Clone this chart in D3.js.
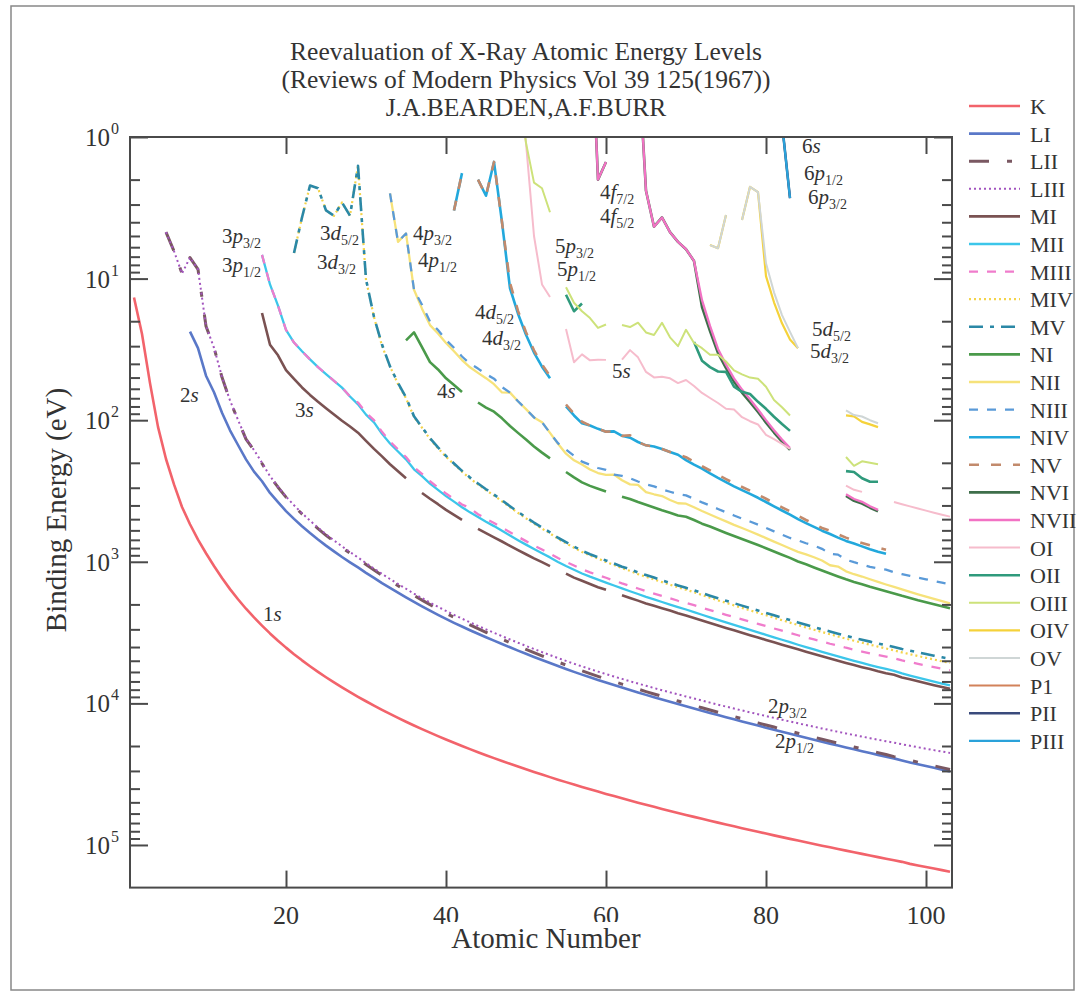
<!DOCTYPE html>
<html><head><meta charset="utf-8">
<script src="https://cdn.jsdelivr.net/npm/d3@7"></script>
<style>
body{margin:0;background:#fff}
svg{display:block}
text{font-family:"Liberation Serif","Times New Roman",serif;fill:#333}
</style>
</head><body>
<svg id="chart" width="1082" height="1001"></svg>
<script>
// ---------- DATA (binding energies in eV, indexed from a starting atomic number) ----------
const levelNames = ["K","LI","LII","LIII","MI","MII","MIII","MIV","MV","NI","NII","NIII","NIV","NV","NVI","NVII","OI","OII","OIII","OIV","OV","P1","PII","PIII"];
const xTicks = [20,40,60,80,100];
const yDecades = [0,1,2,3,4,5];

const K_z0 = 1;
const K = [13.6,24.6,54.7,111.5,188,284.2,409.9,543.1,696.7,870.2,
1070.8,1303,1559.6,1839,2145.5,2472,2822.4,3205.9,3608.4,4038.5,
4492,4966,5465,5989,6539,7112,7709,8333,8979,9659,
10367,11103,11867,12658,13474,14326,15200,16105,17038,17998,
18986,20000,21044,22117,23220,24350,25514,26711,27940,29200,
30491,31814,33169,34561,35985,37441,38925,40443,41991,43569,
45184,46834,48519,50239,51996,53789,55618,57486,59390,61332,
63314,65351,67416,69525,71676,73871,76111,78395,80725,83102,
85530,88005,90526,93105,95730,98404,101137,103922,106755,109651,
112601,115606,118678,121818,125027,128220,131590,135960,139490,143090,
146780,150540,154380];

const LI_z0 = 8;
const LI = [23.7,31,48.5,
63.5,88.6,117.8,149.7,189,230.9,270,326.3,378.6,438.4,
498,560.9,626.7,696,769.1,844.6,925.1,1008.6,1096.7,1196.2,
1299,1414.6,1527,1652,1782,1921,2065,2216,2373,2532,
2698,2866,3043,3224,3412,3604,3806,4018,4238,4465,
4698,4939,5188,5453,5714,5989,6266,6549,6835,7126,
7428,7737,8052,8376,8708,9046,9394,9751,10116,10486,
10870,11271,11682,12100,12527,12968,13419,13880,14353,14839,
15347,15861,16388,16939,17493,18049,18639,19237,19840,20472,
21105,21757,22427,23097,23773,24460,25275,26110,26900,27700,
28530,29380,30240];

const LII_z0 = 5;
const LII = [4.7,6.4,9.2,7.1,8.6,21.7,
30.65,49.78,72.95,99.82,136,163.6,202,250.6,297.3,349.7,
403.6,460.2,519.8,583.8,649.9,719.9,793.2,870,952.3,1044.9,
1143.2,1248.1,1359.1,1474.3,1596,1730.9,1864,2007,2156,2307,
2465,2625,2793,2967,3146,3330,3524,3727,3938,4156,
4380,4612,4852,5107,5359,5624,5891,6164,6440,6722,
7013,7312,7617,7930,8252,8581,8918,9264,9617,9978,
10349,10739,11136,11544,11959,12385,12824,13273,13734,14209,
14698,15200,15711,16244,16785,17337,17907,18484,19083,19693,
20314,20948,21600,22266,22944,23779,24385,25250,26020,26810,
27610,28440,29280];

const LIII_z0 = 5;
const LIII = [4.7,6.4,9.2,7.1,8.6,21.6,
30.81,49.5,72.55,99.42,135,162.5,200,248.4,294.6,346.2,
398.7,453.8,512.1,574.1,638.7,706.8,778.1,852.7,932.7,1021.8,
1116.4,1217,1323.6,1433.9,1550,1678.4,1804,1940,2080,2223,
2371,2520,2677,2838,3004,3173,3351,3538,3730,3929,
4132,4341,4557,4786,5012,5247,5483,5723,5964,6208,
6459,6716,6977,7243,7514,7790,8071,8358,8648,8944,
9244,9561,9881,10207,10535,10871,11215,11564,11919,12284,
12658,13035,13419,13814,14214,14619,15031,15444,15871,16300,
16733,17166,17610,18057,18504,18930,19452,19930,20410,20900,
21390,21880,22380];

const MI_z0 = 17;
const MI = [17.5,29.3,34.8,44.3,
51.1,58.7,66.3,74.1,82.3,91.3,101,110.8,122.5,139.8,
159.5,180.1,204.7,229.6,257,null,326.7,358.7,392,430.3,
466.6,506.3,null,586.1,628.1,671.6,719,772,827.2,884.7,
946,1006,1072,null,1211,1293,1362,1436,1511,1575,
null,1723,1800,1881,1968,2047,2128,2207,2307,2398,
2491,2601,2708,2820,2932,3049,3174,3296,3425,3562,
3704,3851,3999,4149,4317,4482,4652,4822,5002,5182,
5367,5548,5723,5933,6121,6288,6556,6754,6977,7205,
7441,7675,7900];

const MII_z0 = 17;
const MII = [6.8,11,15.5,23,
28.3,32.6,37.2,42.2,47.2,52.7,58.9,68,77.3,91.4,
103.5,124.9,146.2,166.5,189,222.2,248.7,280.3,310.6,343.5,
376.1,411.6,447.6,483.5,521.3,559.9,603.8,652.6,703.2,756.5,
812.7,870.8,931,1002.1,1071,1137,1209,1274,1337,1403,
1471,1541,1614,1688,1768,1842,1923,2006,2090,2173,
2264,2365,2469,2575,2682,2792,2909,3027,3148,3279,
3416,3554,3696,3854,4008,4159,4327,4490,4656,4830,
5001,5182,5366,5541,5710,5895,6147,6359,6574,6793,
7019,7245,7475];

const MIII_z0 = 17;
const MIII = [6.8,11,15.5,23,
28.3,32.6,37.2,42.2,47.2,52.7,58.9,68,75.1,88.6,
100,120.8,141.2,160.7,182,214.4,239.1,270,298.8,329.8,
360.6,394,417.7,461.4,496.5,532.3,573,618.4,665.3,714.6,
766.4,820,875,940.6,1003,1063,1128,1187,1242,1297,
1357,1420,1481,1544,1611,1676,1741,1812,1885,1950,
2024,2108,2194,2281,2367,2457,2551,2645,2743,2847,
2957,3066,3177,3302,3426,3538,3663,3792,3909,4046,
4174,4303,4435,4557,4667,4797,4977,5109,5252,5397,
5546,5688,5830];

const MIV_z0 = 21;
const MIV = [6.6,3.7,2.2,2.3,3.3,3.6,2.9,3.6,1.6,10.2,
18.7,29.8,41.7,55.5,70,95,113,136,157.7,181.1,
205,231.1,257.6,284.2,311.9,340.5,374,411.9,451.4,493.2,
537.5,583.4,630.8,689,740.5,795.7,853,902.4,948.3,1003.3,
1052,1110.9,1158.6,1221.9,1276.9,1333,1392,1453,1515,1576,
1639.4,1716.4,1793.2,1872,1949,2031,2116,2202,2291,2385,
2485,2586,2688,2798,2909,3022,3136,3248,3370,3491,
3611,3728,3850,3973,4092,4227,4366,4497,4630,4766,
4903,5043,5185];

const MV_z0 = 21;
const MV = [6.6,3.7,2.2,2.3,3.3,3.6,2.9,3.6,1.6,10.1,
18.7,29.2,41.7,54.6,69,93.8,112,134.2,155.8,178.8,
202.3,227.9,253.9,280,307.2,335.2,368.3,405.2,443.9,484.9,
528.2,573,619.3,676.4,726.6,780.5,836,883.8,928.8,980.4,
1027,1083.4,1127.5,1189.6,1241.1,1292.6,1351,1409,1468,1528,
1588.5,1661.7,1735.1,1809,1883,1960,2040,2122,2206,2295,
2389,2484,2580,2683,2787,2892,3000,3105,3219,3332,
3442,3552,3664,3778,3887,4002,4132,4247,4364,4482,
4602,4724,4847];

const NI_z0 = 35;
const NI = [27.3,24,30.5,38.9,43.8,50.6,
56.4,63.2,null,75,81.4,87.1,97,109.8,122.9,137.1,
153.2,169.4,186,null,232.3,253.5,274.7,291,304.5,319.2,
null,347.2,360,378.6,396,414.2,432.4,449.8,470.9,480.5,
506.8,538,563.4,594.1,625.4,658.2,691.1,725.4,762.1,802.2,
846.2,891.8,939,995,1042,1097,1153,1208,1269,1330,
1387,1439,1501,1559,1617,1674,1740,1800,1867,1929,
1993,2059,2126];

const NII_z0 = 33;
const NII = [2.5,5.5,4.8,12,16.3,21.3,24.4,28.5,
32.6,37.6,42.3,46.3,50.5,55.7,63.7,63.9,73.5,83.6,
95.6,103.3,123,146.7,172.4,192,205.8,223.2,236.3,243.3,
242,265.6,284,286,322.4,333.5,343.5,366.2,385.9,388.7,
412.4,438.2,463.4,490.4,518.7,549.1,577.8,609.1,642.7,680.2,
720.5,761.9,805.2,851,886,929,980,1058,1080,1168,
1224,1271,1328,1387,1447,1505,1568,1632,1697,1763,
1830,1899,1969];

const NIII_z0 = 33;
const NIII = [2.5,5.5,4.8,12,15.3,20.1,23.1,27.1,
30.8,35.5,39.9,43.2,47.3,50.9,58.3,63.9,73.5,83.6,
95.6,103.3,123,145.5,161.3,178.6,196,206.5,217.6,224.6,
242,247.4,257,271,284.1,293.2,308.2,320.2,332.6,339.7,
359.2,380.7,400.9,423.6,446.8,470.7,495.8,519.4,546.3,576.6,
609.5,643.5,678.8,705,740,768,810,879,890,966.4,
1007,1043,1087,1115,1136,1188,1224,1258,1293,1329,
1366,1404,1442];

const NIV_z0 = 41;
const NIV = [3.3,1.8,null,2.0,2.6,1.5,4.0,11.7,17.7,24.9,
33.3,41.9,50.6,null,79.8,92.6,105.3,109,115.1,120.5,
120,129,133,142.6,150.5,153.6,160,167.6,175.5,191.2,
206.1,220,237.9,255.9,273.9,293.1,311.9,331.6,353.2,378.2,
405.7,434.3,464,500,533,567,603,636,675,712.1,
743,778.3,816,849,879];

const NV_z0 = 41;
const NV = [3.3,1.8,null,2.0,2.6,1.5,4.0,10.7,16.9,23.9,
32.1,40.4,48.9,null,77.5,89.9,102.5,109,115.1,120.5,
120,129,127.7,142.6,150.5,153.6,160,167.6,175.5,182.4,
196.3,211.5,226.4,243.5,260.5,278.5,296.3,314.6,335.1,358.8,
385,412.2,440.1,473,507,541,577,603,639,675.2,
708,736.2,765,795,822];

const NVI_z0 = 58;
const NVI = [0.1,2.0,1.5,
null,5.2,null,0.25,2.4,4.3,3.7,4.7,5.5,6.2,
7.5,15.9,23.5,33.6,42.9,53.4,63.8,74.5,87.6,104,
122.2,141.7,162.3,null,null,null,null,null,null,342.4,
371,388.2,415,440];

const NVII_z0 = 58;
const NVII = [0.1,2.0,1.5,
null,5.2,null,0.25,2.4,4.3,3.7,4.7,5.5,6.2,
7.5,14.2,21.6,31.4,40.5,50.7,60.8,71.2,84,99.9,
117.8,136.9,157,null,null,null,null,null,null,333.1,
360,377.4,405,430];

const OI_z0 = 49;
const OI = [0.4,1.1,
5,11,13.5,null,22.7,39,34.3,37.8,37.4,37.5,
null,37.4,32,36,45.6,49.9,49.3,50.6,54.7,52,
57.3,64.2,69.7,75.6,83,84,95.2,101.7,107.2,127,
136,147,159.3,null,null,null,null,null,null,290,
310,321,null,null,null,378,392,406,420,435,
450,465,480];

const OII_z0 = 55;
const OII = [13,17,15,null,null,null,
null,null,null,null,null,null,null,null,null,null,
28,38,42.2,45.3,45.6,58,63,65.3,74.2,83.1,
94.6,106.4,119,null,null,null,null,null,null,229,
232,257,272,272];

const OIII_z0 = 49;
const OIII = [0.4,1.1,
2.1,2.3,3.4,null,11.5,14.8,17,19,22.3,21.1,
null,21.3,22,20.5,24,25,20.5,26,30,23,
28.5,31,34.5,34.5,38.5,44.5,47.5,50,51,58,
72,81,92.6,null,null,null,null,null,null,182,
210,195,200,205];

const OIV_z0 = 73;
const OIV = [5.8,6.1,3.55,null,3.85,2.25,2.45,9.6,
14.7,20.7,26.9,31,null,null,null,null,null,92.5,
94,102.8,107,112];

const OV_z0 = 73;
const OV = [5.8,6.1,3.55,null,3.85,2.25,2.45,7.8,
12.5,18.1,23.8,31,null,null,null,null,null,85.4,
92,94.2,100,105];

const P1_z0 = 82;
const P1 = [0.8,2.7];
const PII_z0 = 82;
const PII = [0.8,2.7];
const PIII_z0 = 82;
const PIII = [0.8,2.7];

// ---------- STYLES ----------
const styles = {
  K:{c:"#f2636b",w:2.6}, LI:{c:"#5a78c8",w:2.6}, LII:{c:"#7a5862",w:3,d:"20,18,5,18"},
  LIII:{c:"#a254be",w:2,d:"2,3"}, MI:{c:"#7a5252",w:2.6}, MII:{c:"#3cc6ea",w:2.3},
  MIII:{c:"#f07ccc",w:2.3,d:"9,9"}, MIV:{c:"#f3d34a",w:2.2,d:"2,3"}, MV:{c:"#2b88a6",w:2.6,d:"14,7,4,7"},
  NI:{c:"#4a9a4a",w:2.6}, NII:{c:"#f6e27a",w:2.3}, NIII:{c:"#5a9ad8",w:2.3,d:"9,9"},
  NIV:{c:"#22a8dc",w:2.6}, NV:{c:"#c28a6c",w:2.6,d:"10,12"}, NVI:{c:"#3e6e4a",w:2.6},
  NVII:{c:"#f272c4",w:2.3}, OI:{c:"#f6bccc",w:2}, OII:{c:"#2f9a7c",w:2.6},
  OIII:{c:"#cde27a",w:2}, OIV:{c:"#f5d23a",w:2.2}, OV:{c:"#cfd6d6",w:2},
  P1:{c:"#d2825a",w:2}, PII:{c:"#3a4a7c",w:2.5}, PIII:{c:"#2aa2da",w:2.3}
};
const dataMap = {K:[K_z0,K],LI:[LI_z0,LI],LII:[LII_z0,LII],LIII:[LIII_z0,LIII],MI:[MI_z0,MI],MII:[MII_z0,MII],
  MIII:[MIII_z0,MIII],MIV:[MIV_z0,MIV],MV:[MV_z0,MV],NI:[NI_z0,NI],NII:[NII_z0,NII],NIII:[NIII_z0,NIII],
  NIV:[NIV_z0,NIV],NV:[NV_z0,NV],NVI:[NVI_z0,NVI],NVII:[NVII_z0,NVII],OI:[OI_z0,OI],OII:[OII_z0,OII],
  OIII:[OIII_z0,OIII],OIV:[OIV_z0,OIV],OV:[OV_z0,OV],P1:[P1_z0,P1],PII:[PII_z0,PII],PIII:[PIII_z0,PIII]};

// ---------- CHART ----------
const svg = d3.select("#chart");
const L = 130, R = 952, T = 137, B = 887.6;
const x = d3.scaleLinear().domain([0.5, 103.25]).range([L, R]);
const y = d3.scaleLog().domain([1, 2e5]).range([T, B]);

// outer frame
svg.append("rect").attr("x",11).attr("y",6).attr("width",1063).attr("height",984)
  .attr("fill","none").attr("stroke","#888").attr("stroke-width",1.5);

svg.append("defs").append("clipPath").attr("id","clip")
  .append("rect").attr("x",L).attr("y",T).attr("width",R-L).attr("height",B-T);

const line = d3.line().defined(d => d[1] != null && d[1] > 0)
  .x(d => x(d[0])).y(d => y(d[1]));

const g = svg.append("g").attr("clip-path","url(#clip)");
levelNames.forEach(n => {
  const [z0, vals] = dataMap[n];
  const pts = vals.map((v,i) => [z0 + i, v]);
  const s = styles[n];
  g.append("path").datum(pts).attr("d", line)
    .attr("fill","none").attr("stroke", s.c).attr("stroke-width", s.w)
    .attr("stroke-dasharray", s.d || null).attr("stroke-linejoin","round");
});

// axes frame & ticks
const ax = svg.append("g").attr("stroke","#4a4a4a");
ax.append("rect").attr("x",L).attr("y",T).attr("width",R-L).attr("height",B-T)
  .attr("fill","none").attr("stroke-width",2);
const majorY = yDecades.map(p => Math.pow(10,p));
const minorY = [];
yDecades.forEach(p => { for (let m=2;m<=9;m++){ const v=m*Math.pow(10,p); if (v<2e5) minorY.push(v);} });
svg.append("g").attr("transform",`translate(${L},0)`).call(d3.axisLeft(y).tickValues(majorY).tickSize(-18).tickFormat(""));
svg.append("g").attr("transform",`translate(${L},0)`).call(d3.axisLeft(y).tickValues(minorY).tickSize(-10).tickFormat(""));
svg.append("g").attr("transform",`translate(${R},0)`).call(d3.axisRight(y).tickValues(majorY).tickSize(-18).tickFormat(""));
svg.append("g").attr("transform",`translate(${R},0)`).call(d3.axisRight(y).tickValues(minorY).tickSize(-10).tickFormat(""));
svg.append("g").attr("transform",`translate(0,${B})`).call(d3.axisBottom(x).tickValues(xTicks).tickSize(-17).tickFormat(""));
svg.append("g").attr("transform",`translate(0,${T})`).call(d3.axisTop(x).tickValues(xTicks).tickSize(-17).tickFormat(""));
svg.selectAll(".domain").remove();
svg.selectAll(".tick line").attr("stroke","#4a4a4a").attr("stroke-width",2);

// tick labels
yDecades.forEach(p => {
  const yy = y(Math.pow(10,p));
  svg.append("text").attr("x",110).attr("y",yy+9).attr("text-anchor","end").attr("font-size",25).text("10");
  svg.append("text").attr("x",111).attr("y",yy-3).attr("font-size",16).text(p);
});
xTicks.forEach(t => {
  svg.append("text").attr("x",x(t)).attr("y",924).attr("text-anchor","middle").attr("font-size",26).text(t);
});

// axis titles (x title has an opaque box, as in the reference where it hides the foot of "40" and "60")
svg.append("rect").attr("x",447).attr("y",922).attr("width",198).attr("height",32).attr("fill","#fff");
svg.append("text").attr("x",546).attr("y",948).attr("text-anchor","middle").attr("font-size",29).text("Atomic Number");
svg.append("text").attr("transform","translate(66,510) rotate(-90)").attr("text-anchor","middle").attr("font-size",29).text("Binding Energy (eV)");

// title
["Reevaluation of X-Ray Atomic Energy Levels","(Reviews of Modern Physics Vol 39 125(1967))","J.A.BEARDEN,A.F.BURR"]
  .forEach((t,i) => svg.append("text").attr("x",526).attr("y",60+i*28).attr("text-anchor","middle").attr("font-size",25.5).text(t));

// annotations: [number, letter, subscript, x, y]
const notes = [["1","s","",263,621],["2","s","",180,402],["3","s","",295,417],["4","s","",437,398],["5","s","",612,378],
 ["3","p","3/2",222,243],["3","p","1/2",222,272],["3","d","5/2",320,240],["3","d","3/2",317,269],
 ["4","p","3/2",413,240],["4","p","1/2",418,267],["4","d","5/2",475,319],["4","d","3/2",482,345],
 ["5","p","3/2",555,253],["5","p","1/2",557,276],["4","f","7/2",600,199],["4","f","5/2",600,223],
 ["6","s","",802,153],["6","p","1/2",804,180],["6","p","3/2",808,204],
 ["5","d","5/2",812,336],["5","d","3/2",810,358],
 ["2","p","3/2",768,713],["2","p","1/2",775,748]];
notes.forEach(([n,l,s,xx,yy]) => {
  const t = svg.append("text").attr("x",xx).attr("y",yy).attr("font-size",21);
  t.append("tspan").text(n);
  t.append("tspan").attr("font-style","italic").text(l);
  if (s) t.append("tspan").attr("font-size",14).attr("dy",5).text(s);
});

// legend
const leg = svg.append("g");
levelNames.forEach((n,i) => {
  const yy = 106 + i*27.6, s = styles[n];
  leg.append("line").attr("x1",969).attr("x2",1020).attr("y1",yy).attr("y2",yy)
    .attr("stroke",s.c).attr("stroke-width",s.w).attr("stroke-dasharray",s.d||null);
  leg.append("text").attr("x",1030).attr("y",yy+8).attr("font-size",22).text(n);
});
</script>
</body></html>
